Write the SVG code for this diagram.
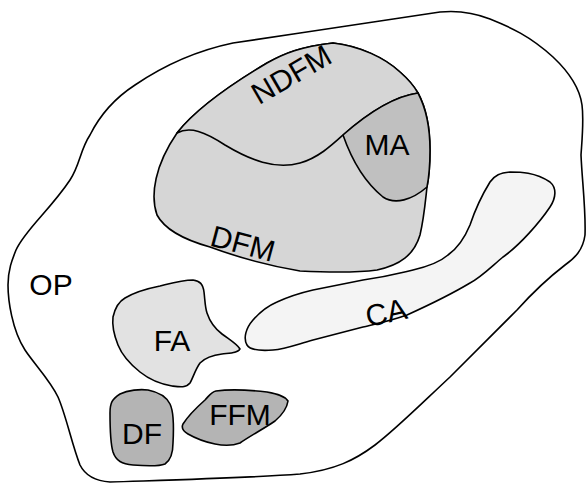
<svg xmlns="http://www.w3.org/2000/svg" width="587" height="483" viewBox="0 0 587 483">
<style>
.s{stroke:#000;stroke-width:1.6;stroke-linejoin:round;stroke-linecap:round}
.t{font-family:"Liberation Sans",Arial,sans-serif;font-size:30px;fill:#000;text-anchor:middle}
</style>
<rect width="587" height="483" fill="#fff"/>
<g id="op">
<path class="s" fill="#fff" d="M16,250 C25,230 50,210 70,180 C80,165 80,150 90,135 C100,115 115,98 135,85 C160,68 190,52 233,43 L300,33 C340,27 400,18 440,12 C460,10 475,13 490,19 C510,27 530,36 553,57 C570,73 580,90 582,105 C584,120 582,140 581,155 C582,180 586,210 585,235 C583,250 575,258 565,265 C552,275 535,290 517,310 L450,377 C420,405 395,430 375,445 C355,460 335,470 300,474 C250,478 170,480 110,482 C95,481 85,475 80,465 C72,445 66,415 58,397 C50,380 35,365 25,350 C12,330 8,300 8,285 C8,270 12,260 16,250 Z"/>
<text class="t" x="51" y="295">OP</text>
</g>
<g id="dfm">
<path class="s" fill="#d6d6d6" d="M177,133 C195,110 230,85 267,63 C285,53 300,47 333,43 C360,46 385,58 400,72 C408,79 414,86 418,93 C426,108 430,128 430,150 C430,165 429,177 427,187 C425,205 424,218 420,235 C414,255 400,265 377,270 C355,273 320,272 300,271 C270,266 240,258 210,247 C185,240 165,230 157,215 C150,195 155,165 177,133 Z"/>
<text class="t" x="243" y="254" transform="rotate(15 243 243)">DFM</text>
</g>
<g id="ndfm">
<path class="s" fill="#d6d6d6" d="M177,133 C195,110 230,85 267,63 C285,53 300,47 333,43 C360,46 385,58 400,72 C408,79 414,86 418,93 C390,97 360,120 343,135 C332,145 318,158 300,163 C275,170 250,160 225,145 C205,132 190,126 177,133 Z"/>
<text class="t" x="291" y="85" transform="rotate(-30 291 74)">NDFM</text>
</g>
<g id="ma">
<path class="s" fill="#c0c0c0" d="M343,135 C350,155 362,180 383,197 C395,205 412,200 427,187 C429,177 430,165 430,150 C430,128 426,108 418,93 C390,97 360,120 343,135 Z"/>
<text class="t" x="387" y="155">MA</text>
</g>
<g id="ca">
<path class="s" fill="#f4f4f4" d="M490,182 C495,175 500,173 510,172 C520,172 535,172 550,182 C557,188 556,198 550,207 C540,222 520,245 503,257 C490,268 480,278 470,283 C455,292 440,300 407,315 C390,321 380,323 363,327 L313,340 C295,345 285,349 273,350 C260,351 250,350 247,345 C243,338 246,328 253,320 C260,312 270,305 277,302 C290,296 300,293 313,290 L363,280 C390,276 400,273 413,270 C430,266 440,262 448,255 C458,248 465,237 470,225 C475,210 482,195 490,182 Z"/>
<text class="t" x="386" y="323" transform="rotate(-12 386 312)">CA</text>
</g>
<g id="fa">
<path class="s" fill="#e2e2e2" d="M113,317 C115,308 118,302 125,298 C135,292 150,288 160,286 C172,283 182,280 193,280 C200,281 203,284 204,292 C205,300 205,307 207,313 C210,322 214,328 222,334 C230,340 237,344 240,349 C238,353 230,353 222,354 C213,355 205,358 200,363 C195,370 193,378 190,383 C186,388 180,387 172,386 C160,384 150,380 140,372 C130,364 122,355 118,345 C114,335 112,325 113,317 Z"/>
<text class="t" x="172" y="351">FA</text>
</g>
<g id="df">
<path class="s" fill="#b4b4b4" d="M110,413 C110,403 112,399 120,394 C128,390 140,389 148,390 C158,392 166,396 170,404 C174,412 174,425 173,443 C173,452 171,460 165,464 C160,466 145,466 133,465 C122,464 116,461 113,452 C110,442 110,425 110,413 Z"/>
<text class="t" x="142" y="444">DF</text>
</g>
<g id="ffm">
<path class="s" fill="#b4b4b4" d="M183,424 C188,416 196,408 205,400 C209,396 211,392 216,391 C230,389 250,390 267,392 C278,394 285,396 288,401 C287,408 282,415 275,421 C265,428 250,436 240,443 C232,446 225,446 215,444 C205,442 195,438 188,434 C183,431 181,428 183,424 Z"/>
<text class="t" x="240" y="425">FFM</text>
</g>
</svg>
